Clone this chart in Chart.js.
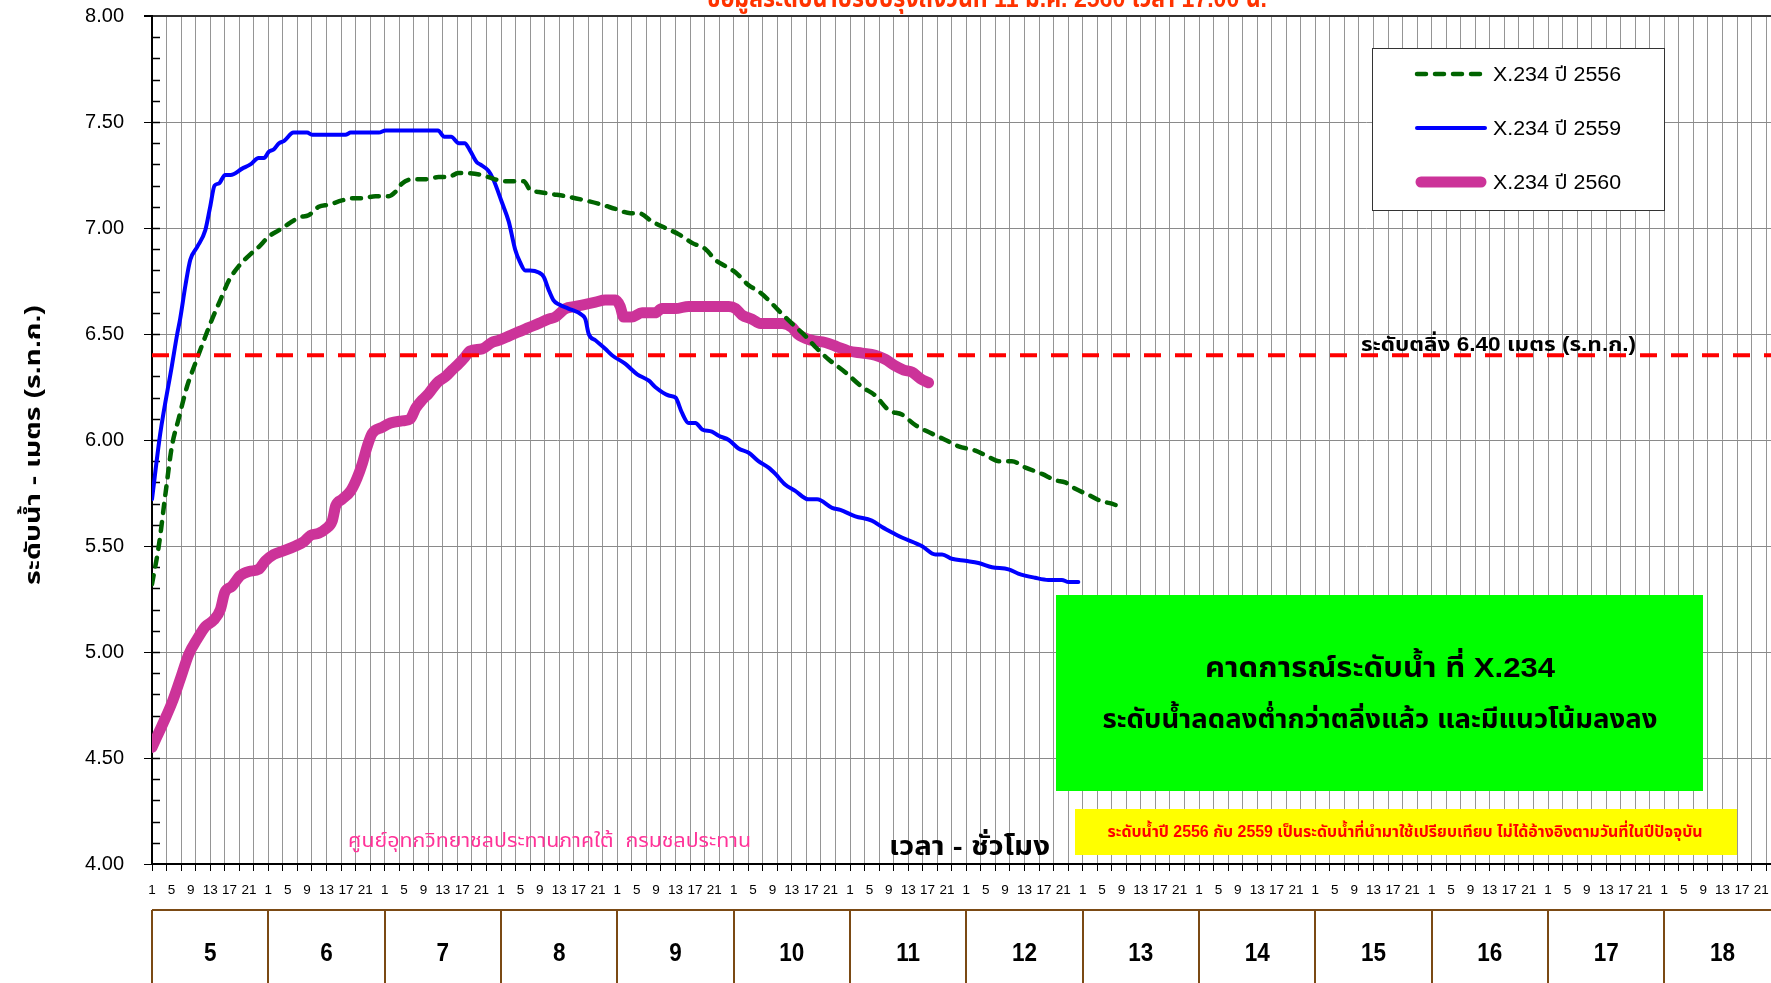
<!DOCTYPE html>
<html><head><meta charset="utf-8">
<script src="https://cdn.jsdelivr.net/npm/chart.js@4.4.1/dist/chart.umd.min.js"></script>
<style>html,body{margin:0;padding:0;background:#fff;overflow:hidden}#wrap{position:relative;width:1771px;height:983px}canvas{display:block}</style>
</head><body><div id="wrap"><canvas id="c" width="1771" height="983" style="width:1771px;height:983px"></canvas></div>
<script>
// ---------- data (hour index from day 5, hour 1) ----------
const days = [5, 6, 7, 8, 9, 10, 11, 12, 13, 14, 15, 16, 17, 18];
const hourTickLabels = [1, 5, 9, 13, 17, 21];
const bankLevel = 6.40;
const yTickValues = [4.0, 4.5, 5.0, 5.5, 6.0, 6.5, 7.0, 7.5, 8.0];

const hours2556 = [0,1.4,2.8,4.1,5.5,7.2,8.9,10.7,12.4,14.1,15.8,17.9,20,22,24.1,26.2,28.2,30.3,32.3,34.4,36.5,39.2,41.3,43.4,46.1,48.9,50.2,51.6,53.7,56.4,59.1,61.2,63.2,68.1,69.4,72.9,76.7,78,79.8,82.5,85.3,89.4,92.8,95.6,98.7,100.4,103.2,105.9,108.7,111.4,114.2,116.2,118.3,120.4,123.1,125.2,127.2,129.3,132,134.8,136.8,139.6,143,146.5,149.2,152,154.7,157.5,160.9,163.7,166.4,169.9,172.6,174.7,177.4,180.2,183.6,186.4,188.4,190.5,193.3,196,198,200.1];
const level2556 = [5.32,5.50,5.75,5.97,6.10,6.25,6.36,6.47,6.57,6.66,6.75,6.82,6.87,6.91,6.96,6.99,7.02,7.05,7.06,7.10,7.11,7.13,7.14,7.14,7.15,7.15,7.17,7.21,7.23,7.23,7.24,7.24,7.26,7.25,7.24,7.22,7.22,7.18,7.17,7.16,7.15,7.13,7.11,7.09,7.07,7.07,7.03,7.00,6.97,6.93,6.90,6.85,6.82,6.79,6.73,6.70,6.66,6.61,6.55,6.49,6.44,6.38,6.32,6.25,6.21,6.14,6.12,6.07,6.03,6.00,5.97,5.95,5.92,5.90,5.90,5.87,5.84,5.81,5.80,5.77,5.74,5.71,5.70,5.68];

const hours2559 = [0,1.7,4.1,5.2,5.8,6.9,7.9,9.3,11,12,12.9,13.8,15.1,16.2,18.6,20.3,22,23.1,24.1,25.1,26.2,27.2,29.2,32,33,39.9,41,46.8,48.2,59,60.3,61.7,63.3,64.5,65.5,67,67.7,69.4,70.4,72.2,73.6,74.9,75.9,77,78,79.8,80.8,81.8,82.8,83.9,85.9,88.7,89.4,90.1,91.5,93.5,94.9,97.6,100.1,102.5,103.8,106.6,108,109.3,110.7,112.1,113.5,115.5,116.9,119,121,123.1,125.1,127.2,128.6,130.6,132.7,135.4,137.2,140.3,142,145.1,148.5,150.6,153,154.7,158.8,161.6,163,165,167.8,170.5,173.3,176.7,178.7,182.2,184.9,187.7,189.1,191.1];
const level2559 = [5.72,6.03,6.35,6.50,6.57,6.73,6.85,6.91,6.99,7.10,7.20,7.21,7.25,7.25,7.28,7.30,7.33,7.33,7.36,7.37,7.40,7.41,7.45,7.45,7.44,7.44,7.45,7.45,7.46,7.46,7.43,7.43,7.40,7.40,7.37,7.31,7.30,7.27,7.23,7.12,7.03,6.90,6.84,6.80,6.80,6.79,6.77,6.71,6.66,6.64,6.62,6.59,6.57,6.50,6.47,6.43,6.40,6.36,6.31,6.28,6.25,6.21,6.20,6.13,6.08,6.08,6.05,6.04,6.02,6.00,5.96,5.94,5.90,5.87,5.84,5.79,5.76,5.72,5.72,5.68,5.67,5.64,5.62,5.59,5.56,5.54,5.50,5.46,5.46,5.44,5.43,5.42,5.40,5.39,5.37,5.35,5.34,5.34,5.33,5.33];

const hours2560 = [0,1,2.4,4.1,5.8,7.6,9.3,11,12.7,14.1,15,16.5,18.2,20,22,23.4,25.1,27.5,29.6,31.3,32.7,34.4,35.8,37.2,37.9,39.2,41,42.3,43.4,44.4,45.4,47.5,49.2,51.6,53.3,54.4,55.8,57.1,58.8,60.6,61.9,63.3,64.5,65.6,68.1,70.1,71.5,73.6,75.6,77.7,79.8,81.8,83.2,85.3,87.3,89.4,91.5,93.5,95.6,96.6,97.3,99,101.1,103.8,105.2,108,110.7,119,120.4,121.7,123.8,125.5,130,132.1,133.2,136.1,138.9,141.3,143.7,146.5,149.2,151.3,153.3,155.1,156.8,158.5,160.2];
const level2560 = [4.55,4.60,4.67,4.76,4.87,4.99,5.06,5.12,5.15,5.20,5.28,5.31,5.36,5.38,5.39,5.43,5.46,5.48,5.50,5.52,5.55,5.56,5.58,5.62,5.69,5.72,5.76,5.82,5.89,5.97,6.03,6.06,6.08,6.09,6.10,6.15,6.19,6.22,6.27,6.30,6.33,6.36,6.39,6.42,6.43,6.46,6.47,6.49,6.51,6.53,6.55,6.57,6.58,6.62,6.63,6.64,6.65,6.66,6.66,6.63,6.58,6.58,6.60,6.60,6.62,6.62,6.63,6.63,6.62,6.59,6.57,6.55,6.55,6.53,6.50,6.47,6.46,6.44,6.42,6.41,6.40,6.38,6.35,6.33,6.32,6.29,6.27];

const xMax = 334;
// ---------- texts ----------
const titleText = 'ข้อมูลระดับน้ำปรับปรุงถึงวันที่ 11 ม.ค. 2560 เวลา 17.00 น.';
const yTitleText = 'ระดับน้ำ - เมตร (ร.ท.ก.)';
const xTitleText = 'เวลา - ชั่วโมง';
const creditText = 'ศูนย์อุทกวิทยาชลประทานภาคใต้  กรมชลประทาน';
const forecast1 = 'คาดการณ์ระดับน้ำ ที่ X.234';
const forecast2 = 'ระดับน้ำลดลงต่ำกว่าตลิ่งแล้ว และมีแนวโน้มลงลง';
const noteText = 'ระดับน้ำปี 2556 กับ 2559 เป็นระดับน้ำที่นำมาใช้เปรียบเทียบ ไม่ได้อ้างอิงตามวันที่ในปีปัจจุบัน';

const FF = "'Liberation Sans', 'Noto Sans Thai', 'Noto Sans', 'DejaVu Sans', sans-serif";
const pts = (xs, ys) => xs.map((h, i) => ({x: h, y: ys[i]}));

function fitText(ctx, text, x, y, o) {
  ctx.save();
  ctx.font = o.font;
  ctx.fillStyle = o.color || '#000';
  ctx.textBaseline = o.baseline || 'alphabetic';
  ctx.textAlign = 'left';
  const w = ctx.measureText(text).width;
  const sx = o.width ? o.width / w : (o.sx || 1);
  const dw = w * sx;
  ctx.translate(x, y);
  if (o.rotate) ctx.rotate(o.rotate);
  let left = 0;
  if (o.align === 'center') left = -dw / 2; else if (o.align === 'right') left = -dw;
  ctx.translate(left, 0);
  ctx.scale(sx, 1);
  ctx.fillText(text, 0, 0);
  ctx.restore();
}

const deco = {
  id: 'deco',
  beforeDatasetsDraw(chart) {
    const {ctx, chartArea: a, scales: {y}} = chart;
    ctx.save();
    // inner minor ticks on the value axis
    ctx.strokeStyle = '#000'; ctx.lineWidth = 1.5;
    for (let i = 41; i < 80; i++) {
      const py = Math.round(y.getPixelForValue(i / 10)) + 0.5;
      ctx.beginPath(); ctx.moveTo(a.left, py); ctx.lineTo(a.left + 8, py); ctx.stroke();
    }
    // forecast box
    ctx.fillStyle = '#00ff00'; ctx.fillRect(1056, 595, 647, 196);
    fitText(ctx, forecast1, 1380, 677, {font: 'bold 28px ' + FF, width: 350, align: 'center'});
    fitText(ctx, forecast2, 1380, 728, {font: 'bold 26px ' + FF, width: 555, align: 'center'});
    // note box
    ctx.fillStyle = '#ffff00'; ctx.fillRect(1075, 809, 662, 46);
    fitText(ctx, noteText, 1405, 837, {font: 'bold 16px ' + FF, width: 595, align: 'center', color: '#ff0000'});
    // credit + axis title
    fitText(ctx, creditText, 348, 847, {font: '20px ' + FF, width: 403, color: '#ff3399'});
    fitText(ctx, xTitleText, 889, 855, {font: 'bold 26px ' + FF, width: 161});
    ctx.restore();
  },
  afterDatasetsDraw(chart) {
    const {ctx} = chart;
    ctx.save();
    // bank label
    fitText(ctx, 'ระดับตลิ่ง ' + bankLevel.toFixed(2) + ' เมตร (ร.ท.ก.)', 1361, 351, {font: 'bold 20px ' + FF, width: 275});
    // legend
    ctx.fillStyle = '#fff'; ctx.fillRect(1372, 48, 292, 162);
    ctx.strokeStyle = '#333'; ctx.lineWidth = 1; ctx.strokeRect(1372.5, 48.5, 292, 162);
    const rows = [74, 128, 182];
    chart.data.datasets.filter(d => d.inLegend).forEach((d, i) => {
      ctx.save();
      ctx.strokeStyle = d.borderColor; ctx.lineWidth = d.borderWidth;
      ctx.lineCap = d.borderCapStyle || 'butt';
      ctx.setLineDash(d.borderDash || []);
      const pad = d.borderWidth > 6 ? 4 : 0;
      ctx.beginPath(); ctx.moveTo(1417 + pad, rows[i]); ctx.lineTo(1485 - pad, rows[i]); ctx.stroke();
      ctx.restore();
      fitText(ctx, d.label, 1493, rows[i] + 7, {font: '20px ' + FF, width: 128});
    });
    ctx.restore();
  },
  afterDraw(chart) {
    const {ctx, scales: {x}} = chart;
    ctx.save();
    fitText(ctx, titleText, 987, 7, {font: 'bold 26px ' + FF, width: 560, align: 'center', color: '#ff3300'});
    fitText(ctx, yTitleText, 40, 445, {font: 'bold 22px ' + FF, width: 280, align: 'center', rotate: -Math.PI / 2});
    // day boxes
    ctx.strokeStyle = '#7b4a14'; ctx.lineWidth = 2;
    ctx.beginPath(); ctx.moveTo(x.left, 910); ctx.lineTo(1771, 910); ctx.stroke();
    days.forEach((d, i) => {
      const px = Math.round(x.getPixelForValue(i * 24));
      ctx.beginPath(); ctx.moveTo(px, 910); ctx.lineTo(px, 983); ctx.stroke();
      fitText(ctx, String(d), x.getPixelForValue(i * 24 + 12), 961, {font: 'bold 25px ' + FF, sx: 0.9, align: 'center'});
    });
    ctx.restore();
  }
};

new Chart(document.getElementById('c'), {
  type: 'line',
  data: {
    datasets: [
      {label: 'ระดับตลิ่ง', data: [{x: 0, y: bankLevel}, {x: xMax, y: bankLevel}], borderColor: '#ff0000', borderWidth: 4, borderDash: [17, 14], pointRadius: 0},
      {label: 'X.234 ปี 2556', inLegend: true, data: pts(hours2556, level2556), borderColor: '#006400', borderWidth: 4.5, borderDash: [9, 9], borderCapStyle: 'round', pointRadius: 0, cubicInterpolationMode: 'monotone'},
      {label: 'X.234 ปี 2559', inLegend: true, data: pts(hours2559, level2559), borderColor: '#0000ff', borderWidth: 4, borderCapStyle: 'round', borderJoinStyle: 'round', pointRadius: 0, cubicInterpolationMode: 'monotone'},
      {label: 'X.234 ปี 2560', inLegend: true, data: pts(hours2560, level2560), borderColor: '#cc3399', borderWidth: 11, borderCapStyle: 'round', borderJoinStyle: 'round', pointRadius: 0, cubicInterpolationMode: 'monotone'}
    ]
  },
  options: {
    responsive: false, animation: false, devicePixelRatio: 1,
    layout: {padding: {top: 16, left: 0, right: 0, bottom: 0}},
    plugins: {legend: {display: false}, tooltip: {enabled: false}},
    scales: {
      x: {
        type: 'linear', min: 0, max: xMax,
        afterBuildTicks: s => { s.ticks = Array.from({length: xMax + 1}, (_, i) => ({value: i})); },
        afterFit: s => { s.height = 119; s.paddingLeft = 0; s.paddingRight = 0; },
        border: {color: '#000', width: 2},
        grid: {
          color: c => (c.tick && c.tick.value % 3 === 0) ? '#959595' : 'rgba(0,0,0,0)',
          tickColor: c => (c.tick && c.tick.value % 3 === 0) ? '#000' : 'rgba(0,0,0,0)',
          tickLength: 7, lineWidth: 1
        },
        ticks: {
          autoSkip: false, maxRotation: 0, padding: 11, color: '#000', font: {size: 13.5, family: FF},
          callback: v => hourTickLabels.includes(v % 24 + 1) && v % 4 === 0 ? String(v % 24 + 1) : ''
        }
      },
      y: {
        min: 4, max: 8,
        afterBuildTicks: s => { s.ticks = yTickValues.map(v => ({value: v})); },
        afterFit: s => { s.width = 152; s.paddingTop = 0; s.paddingBottom = 0; },
        border: {color: '#000', width: 2},
        grid: {
          color: c => (c.tick && c.tick.value === 8) ? '#333' : '#8a8a8a',
          lineWidth: c => (c.tick && c.tick.value === 8) ? 2 : 1,
          tickColor: '#000', tickLength: 8
        },
        ticks: {padding: 20, color: '#000', font: {size: 20, family: FF}, callback: v => Number(v).toFixed(2)}
      }
    }
  },
  plugins: [deco]
});
</script></body></html>
